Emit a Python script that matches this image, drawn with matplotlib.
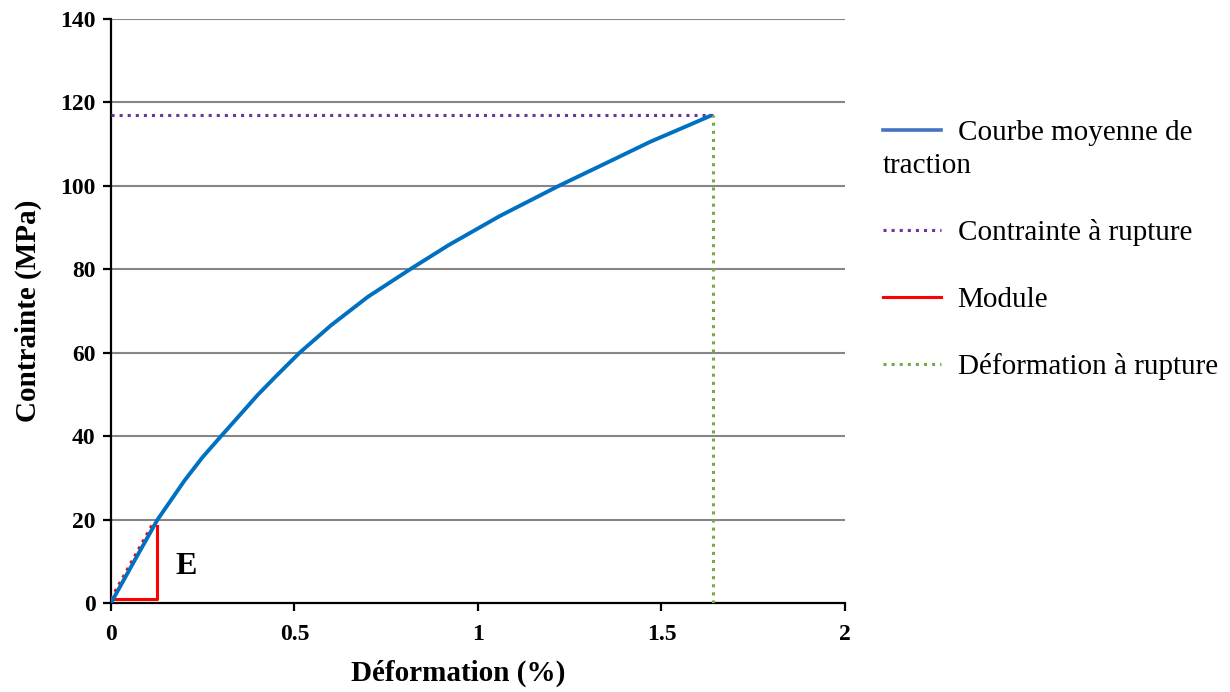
import matplotlib
matplotlib.use("Agg")
import matplotlib.pyplot as plt
from matplotlib.lines import Line2D

# mean tensile curve (strain in %, stress in MPa)
strain = [0, 0.06, 0.127, 0.2, 0.25, 0.300, 0.4, 0.45, 0.514, 0.6,
          0.7, 0.815, 0.92, 1.06, 1.22, 1.35, 1.47, 1.56, 1.636]
stress = [0, 9.5, 20, 29.3, 35.0, 40.0, 49.9, 54.4, 60, 66.6,
          73.4, 80, 85.8, 92.8, 100, 105.5, 110.6, 114.0, 116.9]

# rupture point
rupture_strain = 1.64
rupture_stress = 116.9

# modulus triangle
module_x = [0, 0.126, 0.126]
module_y = [1.0, 1.0, 18.4]
module_slope_x = [0, 0.117]
module_slope_y = [1.0, 19.5]

x_ticks = [0, 0.5, 1, 1.5, 2]
x_tick_labels = ['0', '0.5', '1', '1.5', '2']
y_ticks = [0, 20, 40, 60, 80, 100, 120, 140]

legend_labels = ['Courbe moyenne de', 'Contrainte à rupture',
                 'Module', 'Déformation à rupture']

BLUE = '#0070C0'
PURPLE = '#7030A0'
RED = '#FF0000'
GREEN = '#70AD47'

plt.rcParams['font.family'] = ['Liberation Serif', 'DejaVu Serif']

fig = plt.figure(figsize=(12.3, 6.92), dpi=100)
ax = fig.add_axes([0.0902, 0.1286, 0.5968, 0.8439])

for y in y_ticks[1:]:
    ax.axhline(y, color='#868686', lw=1.5, zorder=1)

ax.plot(module_slope_x, module_slope_y, color=RED, lw=2.2, ls=':', zorder=3)
ax.plot(strain, stress, color=BLUE, lw=2.8, zorder=4, solid_capstyle='butt',
        solid_joinstyle='round')
ax.plot([0, rupture_strain], [rupture_stress, rupture_stress], color=PURPLE, lw=2.2, ls=':', zorder=3)
ax.plot([rupture_strain, rupture_strain], [0, rupture_stress], color=GREEN, lw=2.2, ls=':', zorder=3)
ax.plot(module_x, module_y, color=RED, lw=2.2, zorder=3)

ax.text(0.175, 8.8, 'E', fontsize=23, fontweight='bold', va='center', ha='left')

ax.set_xlim(0, 2)
ax.set_ylim(0, 140)
ax.set_xticks(x_ticks)
ax.set_xticklabels(x_tick_labels)
ax.set_yticks(y_ticks)

for side in ['top', 'right']:
    ax.spines[side].set_visible(False)
for side in ['left', 'bottom']:
    ax.spines[side].set_linewidth(1.6)
ax.tick_params(direction='out', length=6, width=1.6, labelsize=17)
ax.tick_params(axis='x', pad=9)
ax.tick_params(axis='y', pad=5)
for lab in ax.get_xticklabels() + ax.get_yticklabels():
    lab.set_fontweight('bold')

ax.set_xlabel('Déformation (%)', fontsize=21, fontweight='bold', va='center')
ax.set_ylabel('Contrainte (MPa)', fontsize=21, fontweight='bold', va='center')
ax.xaxis.set_label_coords(0.473, -0.12)
ax.yaxis.set_label_coords(-0.113, 0.5)

handles = [
    Line2D([], [], color='#4472C4', lw=2.6),
    Line2D([], [], color=PURPLE, lw=2.2, ls=':'),
    Line2D([], [], color=RED, lw=2.2),
    Line2D([], [], color=GREEN, lw=2.2, ls=':'),
]
leg_kw = dict(loc='upper left', frameon=False, fontsize=21, handlelength=2.0,
              handletextpad=0.55, borderpad=0, borderaxespad=0, labelspacing=1.38)
fig.legend(handles[:1], legend_labels[:1], bbox_to_anchor=(0.718, 0.827), **leg_kw)
fig.text(0.718, 1 - 166 / 692, 'traction', fontsize=21, va='center', ha='left')
fig.legend(handles[1:], legend_labels[1:], bbox_to_anchor=(0.718, 0.683), **leg_kw)

fig.savefig('out.png', dpi=100)
